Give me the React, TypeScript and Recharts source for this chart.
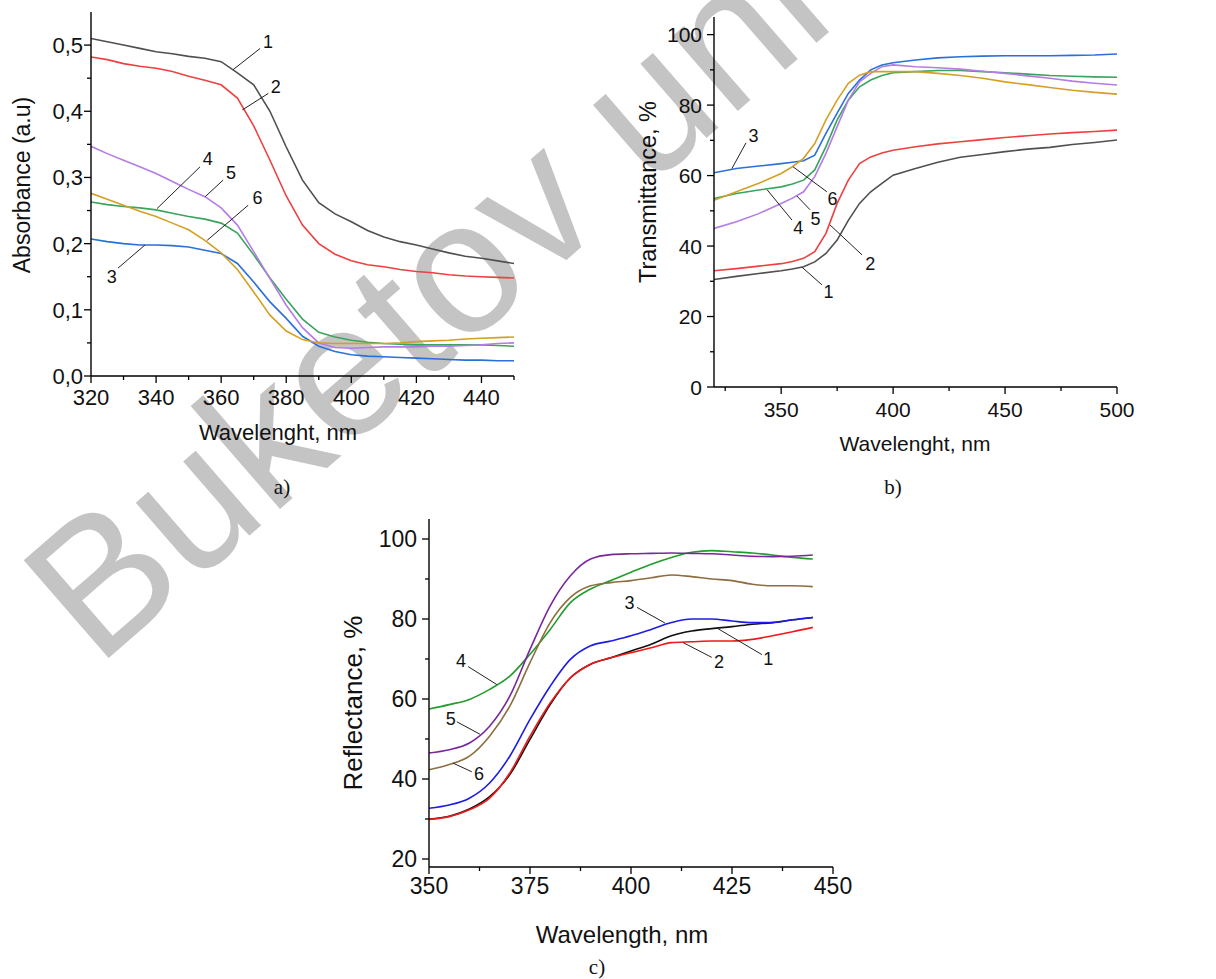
import React from 'react';
import { LineChart, Line, XAxis, YAxis, ReferenceLine, ReferenceDot } from 'recharts';

const FONT = "'Liberation Sans', Arial, sans-serif";
const SERIF = "'Liberation Serif', 'Times New Roman', serif";

// ---- a) absorbance ----
const wlA = [320, 325, 330, 335, 340, 345, 350, 355, 360, 365, 370, 375, 380, 385, 390, 395, 400, 405, 410, 415, 420, 425, 430, 435, 440, 445, 450];
const absA1 = [0.510, 0.505, 0.500, 0.495, 0.490, 0.487, 0.483, 0.480, 0.475, 0.458, 0.440, 0.400, 0.346, 0.296, 0.262, 0.245, 0.233, 0.220, 0.210, 0.203, 0.198, 0.192, 0.186, 0.181, 0.178, 0.174, 0.170];
const absA2 = [0.482, 0.478, 0.472, 0.468, 0.465, 0.460, 0.453, 0.447, 0.440, 0.420, 0.378, 0.326, 0.272, 0.228, 0.200, 0.184, 0.174, 0.168, 0.165, 0.161, 0.158, 0.156, 0.153, 0.151, 0.150, 0.149, 0.148];
const absA3 = [0.207, 0.203, 0.200, 0.198, 0.198, 0.197, 0.195, 0.190, 0.185, 0.170, 0.142, 0.112, 0.087, 0.060, 0.045, 0.037, 0.032, 0.030, 0.029, 0.028, 0.027, 0.026, 0.025, 0.024, 0.024, 0.023, 0.023];
const absA4 = [0.263, 0.259, 0.256, 0.254, 0.251, 0.246, 0.241, 0.237, 0.231, 0.216, 0.183, 0.148, 0.116, 0.086, 0.066, 0.059, 0.054, 0.051, 0.049, 0.048, 0.047, 0.047, 0.047, 0.047, 0.047, 0.046, 0.045];
const absA5 = [0.347, 0.336, 0.326, 0.316, 0.306, 0.294, 0.282, 0.271, 0.254, 0.228, 0.188, 0.147, 0.107, 0.073, 0.050, 0.043, 0.042, 0.043, 0.044, 0.044, 0.044, 0.045, 0.045, 0.046, 0.047, 0.049, 0.050];
const absA6 = [0.276, 0.267, 0.258, 0.249, 0.241, 0.231, 0.221, 0.205, 0.186, 0.161, 0.127, 0.092, 0.068, 0.055, 0.050, 0.049, 0.049, 0.049, 0.049, 0.050, 0.052, 0.053, 0.054, 0.056, 0.057, 0.058, 0.059];

// ---- b) transmittance ----
const wlB = [320, 330, 340, 350, 355, 360, 365, 370, 375, 380, 385, 390, 395, 400, 410, 420, 430, 440, 450, 460, 470, 480, 490, 500];
const trB1 = [30.5, 31.4, 32.2, 33.0, 33.5, 34.1, 35.5, 37.9, 41.7, 47.3, 52.1, 55.4, 57.8, 60.1, 62.0, 63.8, 65.2, 66.0, 66.8, 67.5, 68.0, 68.8, 69.4, 70.1];
const trB2 = [33.0, 33.6, 34.3, 35.0, 35.6, 36.5, 38.4, 43.6, 52.1, 58.7, 63.4, 65.3, 66.4, 67.2, 68.2, 69.0, 69.6, 70.2, 70.8, 71.3, 71.8, 72.2, 72.5, 72.9];
const trB3 = [60.8, 62.0, 62.7, 63.4, 63.8, 64.2, 65.8, 72.0, 77.7, 83.3, 87.1, 90.0, 91.4, 92.0, 92.8, 93.4, 93.7, 93.9, 94.0, 94.0, 94.0, 94.1, 94.2, 94.5];
const trB4 = [53.5, 54.9, 55.9, 56.8, 57.6, 58.7, 61.6, 68.2, 75.8, 81.4, 85.2, 87.1, 88.4, 89.2, 89.5, 89.8, 89.8, 89.5, 89.2, 88.8, 88.4, 88.2, 88.0, 87.9];
const trB5 = [45.0, 46.9, 49.2, 52.1, 53.6, 55.4, 59.7, 66.3, 73.9, 81.4, 86.6, 89.0, 90.9, 91.4, 90.9, 90.6, 90.2, 89.6, 89.0, 88.3, 87.6, 86.8, 86.2, 85.7];
const trB6 = [53.0, 55.4, 57.8, 60.6, 62.5, 64.9, 69.1, 75.8, 81.4, 86.2, 88.5, 89.5, 89.5, 89.5, 89.5, 89.0, 88.4, 87.6, 86.6, 85.8, 85.0, 84.2, 83.6, 83.1];

// ---- c) reflectance ----
const wlC = [350, 355, 360, 365, 370, 375, 380, 385, 390, 395, 400, 405, 410, 415, 420, 425, 430, 435, 440, 445];
const refC1 = [30.0, 30.7, 32.5, 35.6, 41.1, 49.9, 58.6, 65.3, 68.7, 70.3, 72.0, 73.7, 75.8, 77.0, 77.6, 78.1, 78.7, 79.1, 79.8, 80.4];
const refC2 = [29.9, 30.6, 32.3, 35.2, 41.5, 50.7, 59.0, 65.3, 68.7, 70.3, 71.6, 72.8, 74.1, 74.3, 74.5, 74.5, 74.9, 75.8, 76.8, 77.9];
const refC3 = [32.7, 33.5, 35.2, 39.0, 45.7, 54.9, 63.2, 69.9, 73.3, 74.5, 75.8, 77.4, 79.1, 80.0, 80.0, 79.5, 79.1, 79.1, 79.8, 80.4];
const refC4 = [57.5, 58.6, 59.9, 62.4, 65.7, 71.2, 77.4, 84.1, 87.5, 89.6, 91.7, 93.7, 95.4, 96.7, 97.1, 96.8, 96.5, 96.0, 95.4, 95.0];
const refC5 = [46.5, 47.3, 49.0, 53.2, 60.7, 72.4, 83.3, 90.8, 95.0, 96.1, 96.3, 96.4, 96.5, 96.4, 96.3, 96.0, 95.7, 95.6, 95.7, 96.0];
const refC6 = [42.3, 43.6, 45.7, 50.7, 58.2, 69.1, 79.1, 85.4, 88.3, 89.1, 89.6, 90.3, 91.0, 90.6, 90.0, 89.6, 88.7, 88.3, 88.3, 88.1];

// curve labels: [text, leader start, leader end, text position]
type Note = [string, [number, number], [number, number], [number, number]];
const notesA: Note[] = [
  ['1', [363.7, 0.463], [372, 0.495], [374.4, 0.506]],
  ['2', [366.5, 0.402], [374.5, 0.427], [376.8, 0.438]],
  ['4', [340.3, 0.253], [353.5, 0.316], [355.9, 0.328]],
  ['5', [355.1, 0.271], [360.6, 0.296], [363.0, 0.308]],
  ['6', [355.7, 0.205], [368.3, 0.258], [371.2, 0.270]],
  ['3', [336.6, 0.198], [328.3, 0.163], [326.4, 0.150]],
];
const notesB: Note[] = [
  ['3', [328, 62.0], [334.3, 69.3], [337.6, 71.2]],
  ['6', [355.3, 62.5], [370.4, 55.4], [372.9, 53.4]],
  ['5', [357, 54.2], [362.9, 50.3], [365.3, 47.9]],
  ['4', [343.7, 56.0], [354.8, 47.4], [357.6, 45.3]],
  ['2', [371.8, 46.0], [386.1, 37.5], [389.8, 35.0]],
  ['1', [359.3, 34.0], [368.2, 29.0], [371.1, 27.2]],
];
const notesC: Note[] = [
  ['3', [408.4, 79.0], [401.5, 82.9], [399.6, 84.0]],
  ['1', [421.5, 77.6], [432.4, 71.1], [434.0, 70.1]],
  ['2', [412.9, 74.1], [420.0, 70.4], [421.8, 69.3]],
  ['4', [366.8, 63.6], [359.7, 68.1], [357.9, 69.6]],
  ['5', [362.6, 51.2], [356.9, 54.3], [355.4, 55.1]],
  ['6', [355.9, 44.0], [360.6, 41.8], [362.4, 41.3]],
];

type Series = { key: string; values: number[]; color: string };

const TS = 7;
const TM = 3;

function bottomTick(majors: number[], fmt: (v: number) => string, fontSize: number, gap: number) {
  return (p: any) => {
    const v = p.payload.value;
    const major = majors.indexOf(v) >= 0;
    const ay = p.y - TS - TM;
    return (
      <g>
        <line x1={p.x} x2={p.x} y1={ay} y2={ay + (major ? 7 : 4)} stroke="#000" strokeWidth={1.3} />
        {major && (
          <text x={p.x} y={ay + gap + fontSize * 0.716} textAnchor="middle" fontSize={fontSize} fontFamily={FONT} fill="#111">
            {fmt(v)}
          </text>
        )}
      </g>
    );
  };
}

function leftTick(majors: number[], fmt: (v: number) => string, fontSize: number, gap: number) {
  return (p: any) => {
    const v = p.payload.value;
    const major = majors.indexOf(v) >= 0;
    const ax = p.x + TS + TM;
    return (
      <g>
        <line x1={ax} x2={ax - (major ? 7 : 4)} y1={p.y} y2={p.y} stroke="#000" strokeWidth={1.3} />
        {major && (
          <text x={ax - gap} y={p.y + fontSize * 0.358} textAnchor="end" fontSize={fontSize} fontFamily={FONT} fill="#111">
            {fmt(v)}
          </text>
        )}
      </g>
    );
  };
}

interface PanelProps {
  left: number; top: number; width: number; height: number;
  margin: { top: number; right: number; bottom: number; left: number };
  xs: number[]; series: Series[];
  xDomain: [number, number]; yDomain: [number, number];
  xTicks: number[]; xMinor: number[]; yTicks: number[]; yMinor: number[];
  yFmt: (v: number) => string;
  fontX: number; fontY: number; gapX: number; gapY: number;
  notes: Note[]; curve: 'linear' | 'monotone';
}

function Panel(p: PanelProps) {
  const data = p.xs.map((x, i) => {
    const row: Record<string, number> = { x };
    p.series.forEach((s) => { row[s.key] = s.values[i]; });
    return row;
  });
  const allX = [...p.xTicks, ...p.xMinor].sort((a, b) => a - b);
  const allY = [...p.yTicks, ...p.yMinor].sort((a, b) => a - b);
  return (
    <div style={{ position: 'absolute', left: p.left, top: p.top }}>
      <LineChart width={p.width} height={p.height} data={data} margin={p.margin}>
        <XAxis
          dataKey="x" type="number" domain={p.xDomain} ticks={allX} interval={0}
          height={40} tickSize={TS} tickMargin={TM} tickLine={false}
          axisLine={{ stroke: '#000', strokeWidth: 1.4 }}
          tick={bottomTick(p.xTicks, (v) => String(v), p.fontX, p.gapX)}
          allowDataOverflow
        />
        <YAxis
          type="number" domain={p.yDomain} ticks={allY} interval={0}
          width={60} tickSize={TS} tickMargin={TM} tickLine={false}
          axisLine={{ stroke: '#000', strokeWidth: 1.4 }}
          tick={leftTick(p.yTicks, p.yFmt, p.fontY, p.gapY)}
          allowDataOverflow
        />
        {p.series.map((s) => (
          <Line key={s.key} dataKey={s.key} type={p.curve} stroke={s.color} strokeWidth={1.6}
            dot={false} activeDot={false} isAnimationActive={false} />
        ))}
        {p.notes.map(([t, a, b]) => (
          <ReferenceLine key={'l' + t} segment={[{ x: a[0], y: a[1] }, { x: b[0], y: b[1] }]}
            stroke="#222" strokeWidth={1} />
        ))}
        {p.notes.map(([t, , , c]) => (
          <ReferenceDot key={'t' + t} x={c[0]} y={c[1]} r={0} fill="none" stroke="none"
            label={{ value: t, position: 'center', fontSize: 18, fill: '#111', fontFamily: FONT }} />
        ))}
      </LineChart>
    </div>
  );
}

function Title({ text, x, y, size, rotate, serif }: { text: string; x: number; y: number; size: number; rotate?: boolean; serif?: boolean }) {
  return (
    <div style={{
      position: 'absolute', left: x, top: y, fontSize: size, lineHeight: 1,
      fontFamily: serif ? SERIF : FONT, color: '#111', whiteSpace: 'nowrap',
      transform: `translate(-50%, -50%)${rotate ? ' rotate(-90deg)' : ''}`,
    }}>{text}</div>
  );
}

const colorsAB = ['#505050', '#ee4040', '#2a70db', '#39a45c', '#b47ce6', '#d4a024'];
const colorsC = ['#111111', '#f01818', '#1c1ce6', '#229c2c', '#7a279c', '#8c6e40'];

export default function App() {
  const seriesA: Series[] = [absA1, absA2, absA3, absA4, absA5, absA6].map((v, i) => ({ key: 's' + (i + 1), values: v, color: colorsAB[i] }));
  const seriesB: Series[] = [trB1, trB2, trB3, trB4, trB5, trB6].map((v, i) => ({ key: 's' + (i + 1), values: v, color: colorsAB[i] }));
  const seriesC: Series[] = [refC1, refC2, refC3, refC4, refC5, refC6].map((v, i) => ({ key: 's' + (i + 1), values: v, color: colorsC[i] }));

  return (
    <div style={{ position: 'relative', width: 1216, height: 979, overflow: 'hidden', background: '#fff' }}>
      <style>{'body{margin:0}'}</style>
      <svg width={1216} height={979} style={{ position: 'absolute', left: 0, top: 0 }}>
        <text transform="translate(97,668) rotate(-41)" fontSize={188} fontFamily={FONT} fill="#c4c4c4">
          Buketov uni
        </text>
      </svg>

      <Panel
        left={0} top={0} width={560} height={420}
        margin={{ top: 12, right: 46, bottom: 4, left: 31 }}
        xs={wlA} series={seriesA} xDomain={[320, 450]} yDomain={[0, 0.55]}
        xTicks={[320, 340, 360, 380, 400, 420, 440]} xMinor={[330, 350, 370, 390, 410, 430, 450]}
        yTicks={[0, 0.1, 0.2, 0.3, 0.4, 0.5]} yMinor={[0.05, 0.15, 0.25, 0.35, 0.45]}
        yFmt={(v) => v.toFixed(1).replace('.', ',')}
        fontX={22} fontY={22} gapX={13} gapY={8} notes={notesA} curve="linear"
      />
      <Panel
        left={610} top={0} width={600} height={430}
        margin={{ top: 17, right: 93, bottom: 3, left: 44 }}
        xs={wlB} series={seriesB} xDomain={[320, 500]} yDomain={[0, 105]}
        xTicks={[350, 400, 450, 500]} xMinor={[325, 375, 425, 475]}
        yTicks={[0, 20, 40, 60, 80, 100]} yMinor={[10, 30, 50, 70, 90]}
        yFmt={(v) => String(v)}
        fontX={21} fontY={21} gapX={15} gapY={12} notes={notesB} curve="linear"
      />
      <Panel
        left={330} top={500} width={560} height={420}
        margin={{ top: 19, right: 57, bottom: 13, left: 39 }}
        xs={wlC} series={seriesC} xDomain={[350, 450]} yDomain={[18, 105]}
        xTicks={[350, 375, 400, 425, 450]} xMinor={[362.5, 387.5, 412.5, 437.5]}
        yTicks={[20, 40, 60, 80, 100]} yMinor={[30, 50, 70, 90]}
        yFmt={(v) => String(v)}
        fontX={23} fontY={23} gapX={11} gapY={12} notes={notesC} curve="monotone"
      />

      <Title text="Absorbance (a.u)" x={22} y={185} size={23} rotate />
      <Title text="Wavelenght, nm" x={278} y={433} size={22} />
      <Title text="a)" x={282} y={487} size={21} serif />

      <Title text="Transmittance, %" x={649} y={192} size={23.5} rotate />
      <Title text="Wavelenght, nm" x={915} y={443} size={21} />
      <Title text="b)" x={893} y={487} size={21} serif />

      <Title text="Reflectance, %" x={353} y={703} size={26} rotate />
      <Title text="Wavelength, nm" x={622} y={935} size={24} />
      <Title text="c)" x={597} y={967} size={21} serif />
    </div>
  );
}
